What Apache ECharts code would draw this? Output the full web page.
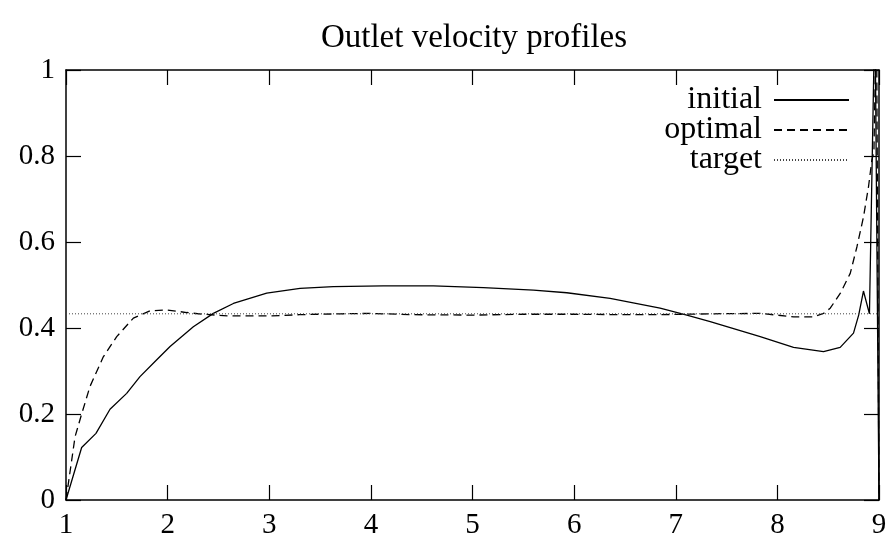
<!DOCTYPE html>
<html>
<head>
<meta charset="utf-8">
<script src="https://cdn.jsdelivr.net/npm/echarts@6/dist/echarts.min.js"></script>
<style>
html,body{margin:0;padding:0;background:#fff;}
#c{width:893px;height:542px;}
</style>
</head>
<body>
<div id="c"></div>
<script>
var titleText = 'Outlet velocity profiles';
var seriesNames = ['initial', 'optimal', 'target'];
var xTicks = [1, 2, 3, 4, 5, 6, 7, 8, 9];
var yTicks = [0, 0.2, 0.4, 0.6, 0.8, 1];

var initialData = [
  [1,0],[1.154,0.122],[1.295,0.155],[1.433,0.211],[1.597,0.248],[1.728,0.287],
  [1.893,0.326],[2.024,0.357],[2.253,0.403],[2.45,0.434],[2.647,0.457],[2.975,0.481],
  [3.303,0.492],[3.63,0.496],[4.12,0.498],[4.615,0.498],[5.107,0.494],[5.6,0.488],
  [5.928,0.482],[6.354,0.469],[6.846,0.446],[7.109,0.430],[7.339,0.415],[7.831,0.380],
  [8.159,0.355],[8.454,0.345],[8.618,0.355],[8.749,0.388],[8.8,0.430],[8.847,0.486],
  [8.906,0.433],[8.96,1.15],[9,0]
];
var optimalData = [
  [1,0],[1.089,0.147],[1.154,0.2],[1.236,0.264],[1.367,0.333],[1.499,0.380],
  [1.663,0.423],[1.827,0.440],[1.991,0.442],[2.188,0.436],[2.351,0.432],[2.6,0.428],
  [3.0,0.428],[3.3,0.431],[3.7,0.433],[4.0,0.434],[4.4,0.431],[5.0,0.430],
  [5.5,0.432],[6.0,0.432],[6.5,0.431],[6.85,0.431],[7.34,0.433],[7.83,0.434],
  [8.16,0.426],[8.356,0.426],[8.454,0.434],[8.52,0.446],[8.62,0.481],[8.717,0.527],
  [8.783,0.589],[8.848,0.659],[8.897,0.729],[8.93,0.791],[8.95,0.81],[8.975,1.15],[9,0]
];
var targetValue = 0.433;
var targetData = [[1, targetValue], [9, targetValue]];

var FONT = 'Liberation Serif';
var chart = echarts.init(document.getElementById('c'), null, {renderer: 'canvas'});

function axisCommon(extra) {
  var base = {
    type: 'value',
    axisLine: {show: true, onZero: false, lineStyle: {color: '#000', width: 1.5}},
    axisTick: {show: true, inside: true, length: 15, lineStyle: {color: '#000', width: 1.2}},
    splitLine: {show: false},
    axisLabel: {show: false}
  };
  for (var k in extra) base[k] = extra[k];
  return base;
}

var option = {
  animation: false,
  backgroundColor: '#fff',
  title: {
    text: titleText,
    left: 469, textAlign: 'center', top: 17,
    textStyle: {fontFamily: FONT, fontSize: 33, fontWeight: 'normal', color: '#000'}
  },
  legend: {
    orient: 'vertical',
    right: 43, top: 84,
    padding: 0,
    align: 'right',
    itemWidth: 75, itemHeight: 14, itemGap: -2,
    itemStyle: {opacity: 0},
    textStyle: {fontFamily: FONT, fontSize: 32, color: '#000', lineHeight: 28, padding: [0, 7, 0, 0]},
    data: seriesNames
  },
  grid: {left: 66, right: 14, top: 70, bottom: 42, containLabel: false},
  xAxis: [
    axisCommon({min: xTicks[0], max: xTicks[xTicks.length - 1], interval: 1, position: 'bottom',
      axisLabel: {show: true, fontFamily: FONT, fontSize: 29, color: '#000', margin: 11,
        formatter: function (v) { return String(v); }}}),
    axisCommon({min: xTicks[0], max: xTicks[xTicks.length - 1], interval: 1, position: 'top'})
  ],
  yAxis: [
    axisCommon({min: yTicks[0], max: yTicks[yTicks.length - 1], interval: 0.2, position: 'left',
      axisLabel: {show: true, fontFamily: FONT, fontSize: 29, color: '#000', margin: 11,
        formatter: function (v) { return String(Math.round(v * 10) / 10); }}}),
    axisCommon({min: yTicks[0], max: yTicks[yTicks.length - 1], interval: 0.2, position: 'right'})
  ],
  series: [
    {name: seriesNames[0], type: 'line', data: initialData, showSymbol: false, symbol: 'none',
     clip: true, lineStyle: {color: '#000', width: 1.3, type: 'solid'}, itemStyle: {color: '#000'}},
    {name: seriesNames[1], type: 'line', data: optimalData, showSymbol: false, symbol: 'none',
     clip: true, lineStyle: {color: '#000', width: 1.3, type: [8, 5]}, itemStyle: {color: '#000'}},
    {name: seriesNames[2], type: 'line', data: targetData, showSymbol: false, symbol: 'none',
     clip: true, lineStyle: {color: '#444', width: 1, type: [1, 2]}, itemStyle: {color: '#444'}}
  ]
};
chart.setOption(option);
</script>
</body>
</html>
